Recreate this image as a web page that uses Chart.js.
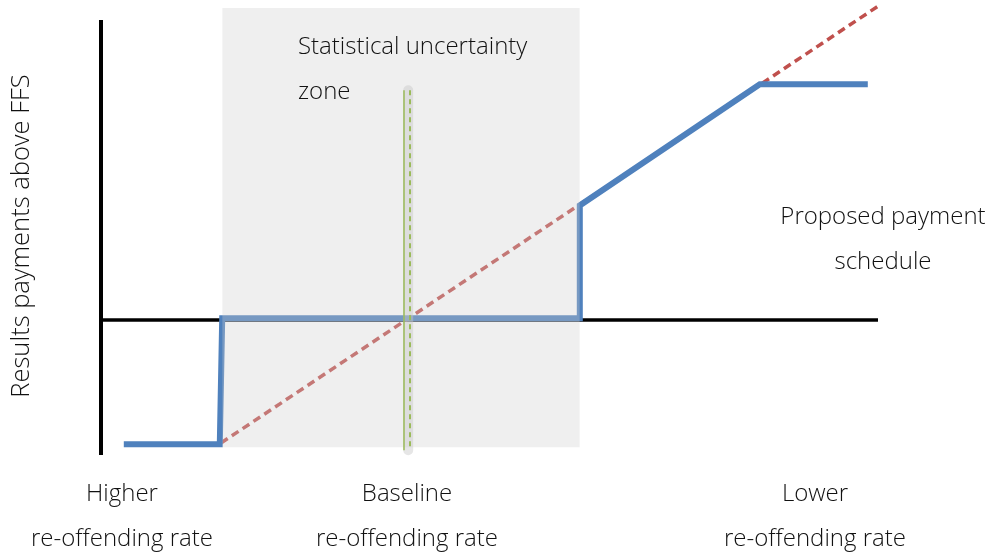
<!DOCTYPE html>
<html>
<head>
<meta charset="utf-8">
<script src="https://cdn.jsdelivr.net/npm/chart.js@4.4.1/dist/chart.umd.min.js"></script>
<style>
  html, body { margin: 0; padding: 0; background: #fff; }
  canvas { display: block; }
</style>
</head>
<body>
<canvas id="chart" width="989" height="555"></canvas>
<script>
// conceptual units: baseline rate at x = 0, payments above FFS = 0 at y = 0
const xAxisLine = [{ x: -5.1, y: 0 }, { x: 7.85, y: 0 }];
const yAxisLine = [{ x: -5.1, y: -2.25 }, { x: -5.1, y: 5 }];
const linearPayment = [{ x: -3.1, y: -2.05 }, { x: 7.85, y: 5.23 }];
const proposedSchedule = [
  { x: -4.72, y: -2.07 }, { x: -3.12, y: -2.07 }, { x: -3.08, y: 0.03 },
  { x: 2.88, y: 0.03 }, { x: 2.88, y: 1.91 }, { x: 5.88, y: 3.93 }, { x: 7.68, y: 3.93 }
];
const uncertaintyZone = [{ x: -3.08, y: 5.2 }, { x: 2.88, y: 5.2 }];
const zoneBottom = -2.12;
const baselineMark = [{ x: 0, y: 3.83 }, { x: 0, y: -2.17 }];

const rateLabels = [
  ["Higher", "re-offending rate"],
  ["Baseline", "re-offending rate"],
  ["Lower", "re-offending rate"]
];
const rateLabelX = [-4.75, 0, 6.8];
const zoneLabel = ["Statistical uncertainty", "zone"];
const scheduleLabel = ["Proposed payment", "schedule"];
const yTitle = "Results payments above FFS";

const textPlugin = {
  id: "texts",
  afterDraw(chart) {
    const ctx = chart.ctx;
    const xs = chart.scales.x;
    ctx.save();
    ctx.fillStyle = "#111";
    ctx.font = "300 24px 'Open Sans', 'Noto Sans', sans-serif";
    ctx.textBaseline = "middle";
    ctx.textAlign = "center";
    rateLabels.forEach((lines, i) => {
      const px = xs.getPixelForValue(rateLabelX[i]);
      ctx.fillText(lines[0], px, 494);
      ctx.fillText(lines[1], px, 539);
    });
    ctx.fillText(scheduleLabel[0], 883, 217);
    ctx.fillText(scheduleLabel[1], 883, 262);
    ctx.textAlign = "left";
    ctx.fillText(zoneLabel[0], 298, 47);
    ctx.fillText(zoneLabel[1], 298, 92);
    ctx.font = "300 25.5px 'Open Sans', 'Noto Sans', sans-serif";
    ctx.translate(22, 236);
    ctx.rotate(-Math.PI / 2);
    ctx.textAlign = "center";
    ctx.fillText(yTitle, 0, 0);
    ctx.restore();
  }
};

const pt = { pointRadius: 0, pointHoverRadius: 0, tension: 0 };

new Chart(document.getElementById("chart"), {
  type: "line",
  data: {
    datasets: [
      { data: xAxisLine, borderColor: "#000", borderWidth: 3.5, order: 9, ...pt },
      { data: yAxisLine, borderColor: "#000", borderWidth: 4, order: 9, ...pt },
      { data: linearPayment, borderColor: "#C0504D", borderWidth: 3.5, borderDash: [8, 5], order: 8, ...pt },
      { data: proposedSchedule, borderColor: "#4F81BD", borderWidth: 6, order: 7, borderJoinStyle: "miter", ...pt },
      { data: uncertaintyZone, borderWidth: 0, borderColor: "rgba(0,0,0,0)",
        backgroundColor: "rgba(205,205,205,0.32)", fill: { value: zoneBottom }, order: 6, ...pt },
      { data: baselineMark.map(p => ({ x: p.x + 0.02, y: p.y })), borderColor: "rgba(200,200,200,0.45)",
        borderWidth: 10, borderCapStyle: "round", order: 5, ...pt },
      { data: baselineMark.map(p => ({ x: p.x - 0.05, y: p.y })), borderColor: "#9BBB59", borderWidth: 1.5, order: 4, ...pt },
      { data: baselineMark.map(p => ({ x: p.x + 0.05, y: p.y })), borderColor: "#9BBB59", borderWidth: 2,
        borderDash: [5, 4], order: 4, ...pt }
    ]
  },
  options: {
    responsive: false,
    animation: false,
    layout: { padding: 0 },
    plugins: { legend: { display: false }, tooltip: { enabled: false } },
    scales: {
      x: { type: "linear", display: false, min: -407 / 60, max: 582 / 60 },
      y: { type: "linear", display: false, min: -235 / 60, max: 320 / 60 }
    }
  },
  plugins: [textPlugin]
});
</script>
</body>
</html>
